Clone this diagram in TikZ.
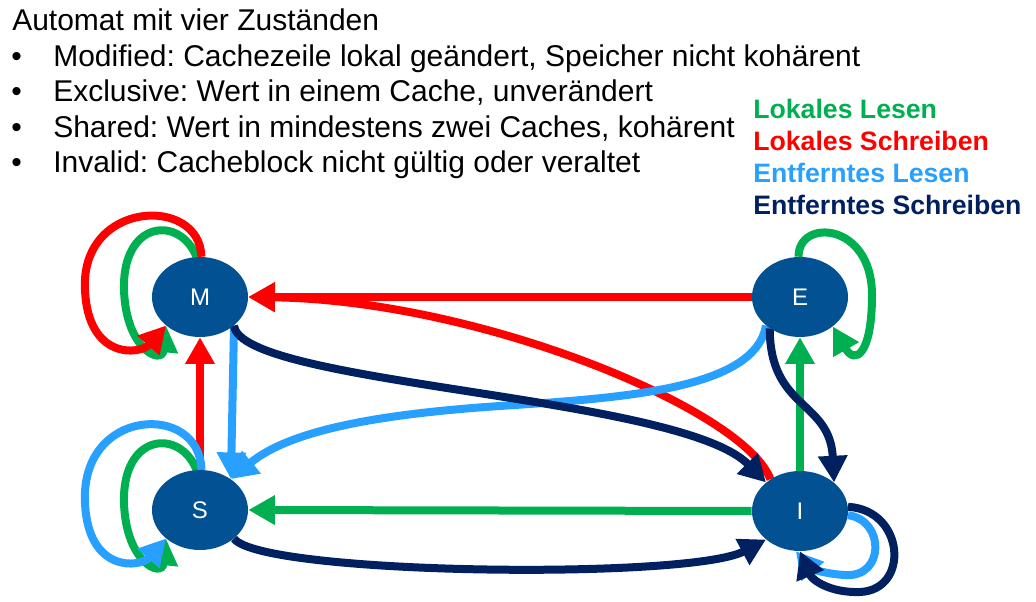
\documentclass[tikz,border=0pt]{standalone}
\usepackage{fontspec}
\setmainfont{Liberation Sans}
\usetikzlibrary{arrows.meta,shapes.geometric}
\definecolor{stnode}{RGB}{2,82,147}
\definecolor{cgreen}{RGB}{0,176,80}
\definecolor{cred}{RGB}{255,0,0}
\definecolor{cblue}{RGB}{40,160,255}
\definecolor{cnavy}{RGB}{0,32,96}
\pgfdeclarelayer{back}
\pgfsetlayers{back,main}
\frenchspacing
\begin{document}
\begin{tikzpicture}[x=0.75pt,y=-0.75pt,
  state/.style={ellipse, fill=stnode, minimum width=72pt, minimum height=60pt, inner sep=0pt, text=white, font=\fontsize{18}{20}\selectfont},
  edge/.style={line width=6pt, -{Triangle[length=20pt,width=21pt]}},
  body/.style={anchor=base west, inner sep=0pt, font=\fontsize{22.5}{26}\selectfont},
  legend/.style={anchor=base west, inner sep=0pt, font=\fontsize{20}{24}\selectfont\bfseries},
]
\useasboundingbox (0,0) rectangle (1036,602);
% text
\node[body] (t0) at (12,31) {Automat mit vier Zuständen};
\node[body] (p1) at (11,67) {•};
\node[body] (b1) at (53,67) {Modified: Cachezeile lokal geändert, Speicher nicht kohärent};
\node[body] (p2) at (11,102) {•};
\node[body] (b2) at (53,102) {Exclusive: Wert in einem Cache, unverändert};
\node[body] (p3) at (11,137.5) {•};
\node[body] (b3) at (53,137.5) {Shared: Wert in mindestens zwei Caches, kohärent};
\node[body] (p4) at (11,173) {•};
\node[body] (b4) at (53,173) {Invalid: Cacheblock nicht gültig oder veraltet};
% legend
\node[legend, text=cgreen] (l1) at (753,119) {Lokales Lesen};
\node[legend, text=cred] (l2) at (753,151) {Lokales Schreiben};
\node[legend, text=cblue] (l3) at (753,183) {Entferntes Lesen};
\node[legend, text=cnavy] (l4) at (753,215) {Entferntes Schreiben};
% states
\node[state] (M) at (200,297) {M};
\node[state] (E) at (800,297) {E};
\node[state] (S) at (200,510) {S};
\node[state] (I) at (800,511) {I};
\begin{pgfonlayer}{back}
% straight edges
\draw[edge, cred] (E.west) -- (M.east);
\draw[edge, cred] (S.north) -- (M.south);
\draw[edge, cgreen] (I.north) -- (E.south);
\draw[edge, cgreen] (I.west) -- (S.east);
% curved edges
\draw[edge, cred] (I.133) .. controls (745,410) and (480,300) .. (M.east);
\draw[edge, cblue] (M.-40) -- (S.45);
\draw[edge, cblue] (E.-140) .. controls (755,390) and (620,398) .. (500,406) .. controls (380,414) and (290,430) .. (S.45);
\draw[edge, cnavy] (M.-40) .. controls (240,385) and (680,395) .. (I.140);
\draw[edge, cnavy] (S.-40) .. controls (260,575) and (690,580) .. (I.220);
\draw[edge, cnavy] (E.-134) .. controls (770,410) and (830,400) .. (I.40);
% self loops
\draw[edge, cgreen] (M.95) .. controls (180,215) and (122,220) .. (124,290) .. controls (126,350) and (162,365) .. (M.220);
\draw[edge, cred] (M.88) .. controls (200,195) and (80,200) .. (85,290) .. controls (88,360) and (140,355) .. (M.220);
\draw[edge, cgreen] (S.95) .. controls (180,428) and (122,433) .. (124,503) .. controls (126,563) and (162,578) .. (S.220);
\draw[edge, cblue] (S.88) .. controls (200,402) and (80,407) .. (85,503) .. controls (88,573) and (140,568) .. (S.220);
\draw[edge, cgreen] (E.92) .. controls (798,218) and (872,222) .. (872,295) .. controls (872,355) and (855,365) .. (E.-42);
\draw[edge, cblue] (I.-5) .. controls (885,520) and (885,578) .. (845,575) .. controls (825,574) and (810,568) .. (I.-96);
\draw[edge, cnavy] (I.5) .. controls (905,510) and (910,590) .. (860,592) .. controls (830,593) and (812,580) .. (I.-90);
\end{pgfonlayer}
\end{tikzpicture}
\end{document}
